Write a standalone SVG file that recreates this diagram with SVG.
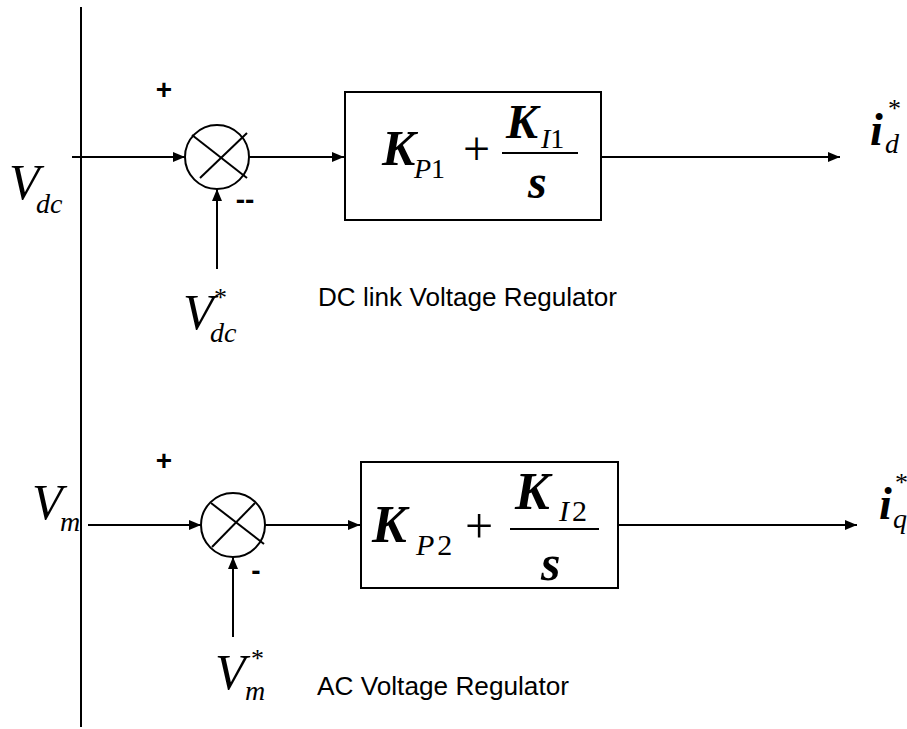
<svg xmlns="http://www.w3.org/2000/svg" width="907" height="729" viewBox="0 0 907 729">
<defs>
<marker id="arr" markerWidth="12" markerHeight="10" refX="12" refY="5" orient="auto" markerUnits="userSpaceOnUse">
<path d="M0,0 L12,5 L0,10 Z" fill="#000"/>
</marker>
<style>
.ln{stroke:#000;stroke-width:2;fill:none}
.ar{stroke:#000;stroke-width:2;fill:none;marker-end:url(#arr)}
.box{stroke:#000;stroke-width:2;fill:#fff}
.sum{stroke:#000;stroke-width:2;fill:#fff}
.m{font-family:"Liberation Serif","Times New Roman",serif;font-style:italic;fill:#000}
.b{font-weight:bold}
.up{font-style:normal}
.lbl{font-family:"Liberation Sans",Arial,sans-serif;fill:#000}
.sg{font-family:"Liberation Sans",Arial,sans-serif;fill:#000;font-size:28px;font-weight:bold}
</style>
</defs>
<rect width="907" height="729" fill="#fff"/>
<g id="connectors">
<line class="ln" x1="81" y1="7" x2="81" y2="727"/>
<line class="ar" x1="72" y1="157" x2="185" y2="157"/>
<line class="ar" x1="249" y1="157" x2="344" y2="157"/>
<line class="ar" x1="601" y1="157" x2="840" y2="157"/>
<line class="ar" x1="217" y1="269" x2="217" y2="189"/>
<line class="ar" x1="88" y1="525" x2="201" y2="525"/>
<line class="ar" x1="265" y1="525" x2="360" y2="525"/>
<line class="ar" x1="618" y1="525" x2="857" y2="525"/>
<line class="ar" x1="233" y1="637" x2="233" y2="557"/>
</g>
<g id="sum1">
<circle class="sum" cx="217" cy="157" r="32"/>
<line class="ln" x1="192" y1="135" x2="247" y2="178"/>
<line class="ln" x1="200" y1="178" x2="247" y2="133"/>
<text class="sg" x="164" y="99" text-anchor="middle">+</text>
<text class="sg" x="245" y="209" text-anchor="middle">--</text>
</g>
<g id="pi1">
<rect class="box" x="345" y="92" width="256" height="128"/>
<text class="m b" x="382" y="165" font-size="50">K</text>
<text class="m" x="414" y="178" font-size="28">P<tspan class="up">1</tspan></text>
<text class="m up" x="463" y="165" font-size="48">+</text>
<line class="ln" x1="502" y1="153" x2="578" y2="153"/>
<text class="m b" x="506" y="138" font-size="48">K</text>
<text class="m" x="541" y="148" font-size="28">I<tspan class="up">1</tspan></text>
<text class="m b" x="528" y="198" font-size="48">s</text>
</g>
<g id="sum2">
<circle class="sum" cx="233" cy="525" r="32"/>
<line class="ln" x1="211" y1="503" x2="264" y2="544"/>
<line class="ln" x1="212" y1="547" x2="255" y2="503"/>
<text class="sg" x="164" y="470" text-anchor="middle">+</text>
<text class="sg" x="256" y="580" text-anchor="middle">-</text>
</g>
<g id="pi2">
<rect class="box" x="361" y="462" width="257" height="126"/>
<text class="m b" x="372" y="542" font-size="52">K</text>
<text class="m" x="416" y="555" font-size="30" letter-spacing="3">P<tspan class="up">2</tspan></text>
<text class="m up" x="465" y="543" font-size="50">+</text>
<line class="ln" x1="510" y1="529" x2="599" y2="529"/>
<text class="m b" x="515" y="509" font-size="52">K</text>
<text class="m" x="559" y="521" font-size="30" letter-spacing="3">I<tspan class="up">2</tspan></text>
<text class="m b" x="541" y="580" font-size="50">s</text>
</g>
<g id="labels">
<text class="m" x="9" y="199" font-size="50">V</text>
<text class="m" x="36" y="213" font-size="28">dc</text>
<text class="m" x="183" y="329" font-size="50">V</text>
<text class="m up" x="214" y="306" font-size="26">*</text>
<text class="m" x="210" y="342" font-size="28">dc</text>
<text class="m" x="32" y="519" font-size="50">V</text>
<text class="m" x="60" y="531" font-size="28">m</text>
<text class="m" x="215" y="689" font-size="50">V</text>
<text class="m up" x="251" y="667" font-size="26">*</text>
<text class="m" x="245" y="700" font-size="28">m</text>
<text class="m b" x="870" y="145" font-size="46">i</text>
<text class="m up" x="888" y="117" font-size="26">*</text>
<text class="m" x="885" y="153" font-size="28">d</text>
<text class="m b" x="879" y="519" font-size="46">i</text>
<text class="m up" x="895" y="491" font-size="26">*</text>
<text class="m" x="893" y="528" font-size="28">q</text>
<text class="lbl" x="318" y="306" font-size="25" textLength="299" lengthAdjust="spacingAndGlyphs">DC link Voltage Regulator</text>
<text class="lbl" x="317" y="695" font-size="25" textLength="252" lengthAdjust="spacingAndGlyphs">AC Voltage Regulator</text>
</g>
</svg>
